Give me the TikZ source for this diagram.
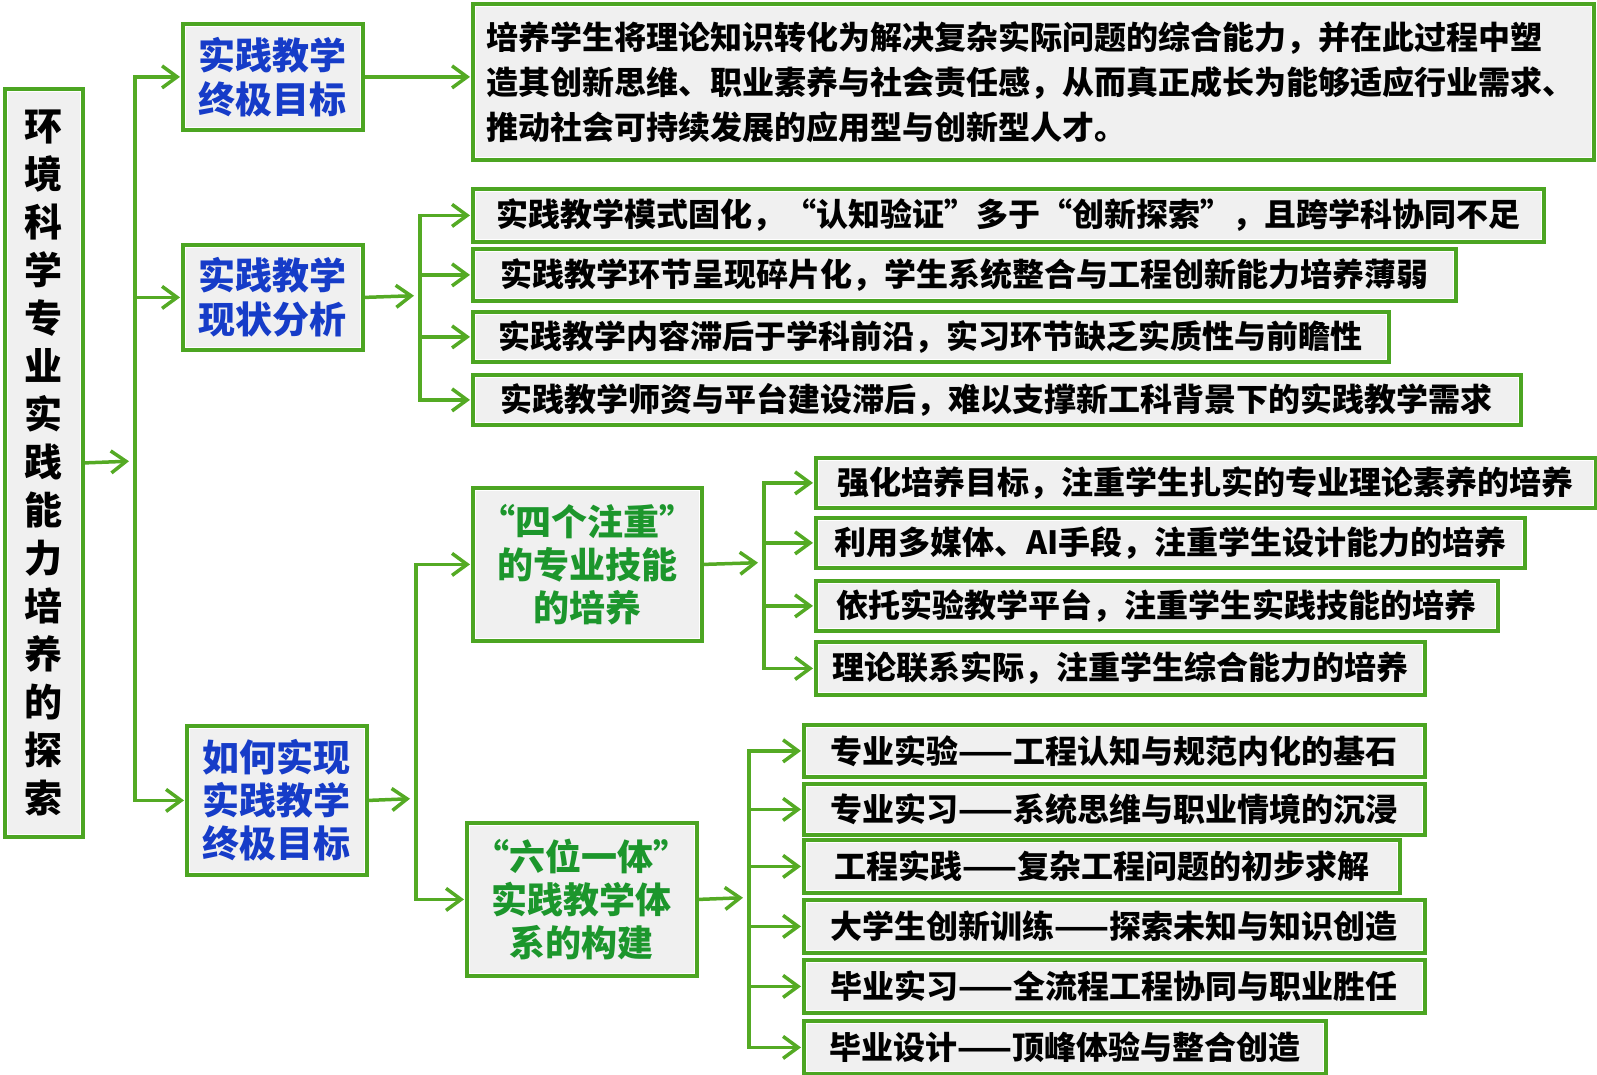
\documentclass[tikz,border=0pt]{standalone}
\usepackage{fontspec}
\setmainfont{Noto Sans CJK SC}
\usetikzlibrary{arrows.meta}
\definecolor{bgreen}{RGB}{76,165,34}
\definecolor{agreen}{RGB}{84,170,36}
\definecolor{bgray}{RGB}{240,240,240}
\definecolor{tblue}{RGB}{22,60,200}
\definecolor{tgreen}{RGB}{28,150,44}
\tikzset{
 box/.style={draw=bgreen, line width=3.8pt, fill=bgray, anchor=north west, inner sep=0pt, align=center,
   font=\bfseries\fontsize{32}{38}\selectfont,
   path picture={\draw[white,line width=6pt] (path picture bounding box.south west) rectangle (path picture bounding box.north east);}},
 itemf/.style={box, font=\bfseries\fontsize{32}{38}\selectfont},
 bluet/.style={box, text=tblue, font=\bfseries\fontsize{37}{44}\selectfont},
 greent/.style={box, text=tgreen, font=\bfseries\fontsize{36}{43}\selectfont},
 arr/.style={draw=agreen, line width=3.5pt, shorten >=1pt, -{Straight Barb[length=15pt,width=22pt,line width=3.5pt]}},
}
\begin{document}
\begin{tikzpicture}[x=1pt,y=-1pt]
\useasboundingbox (0,0) rectangle (1597,1075);
% title
\node[box, minimum width=78pt, minimum height=748pt, font=\bfseries\fontsize{38}{48}\selectfont] (T) at (3,87)
 {环\\境\\科\\学\\专\\业\\实\\践\\能\\力\\培\\养\\的\\探\\索};
% level 1
\node[bluet, minimum width=180pt, minimum height=106pt] (b1) at (181,22) {实践教学\\终极目标};
\node[bluet, minimum width=180pt, minimum height=105pt] (b2) at (181,243) {实践教学\\现状分析};
\node[bluet, minimum width=180pt, minimum height=149pt, font=\bfseries\fontsize{37}{43}\selectfont] (b3) at (185,724) {如何实现\\实践教学\\终极目标};
% goal
\node[box, minimum width=1121pt, minimum height=156pt, text width=1094pt, align=left, font=\bfseries\fontsize{32}{45}\selectfont] (top) at (471,2)
 {培养学生将理论知识转化为解决复杂实际问题的综合能力，并在此过程中塑\\造其创新思维、职业素养与社会责任感，从而真正成长为能够适应行业需求、\\推动社会可持续发展的应用型与创新型人才。};
% status
\node[box, minimum width=1071pt, minimum height=53pt] (s1) at (471,187) {实践教学模式固化，“认知验证”多于“创新探索”，且跨学科协同不足};
\node[box, minimum width=983pt, minimum height=52pt] (s2) at (471,247) {实践教学环节呈现碎片化，学生系统整合与工程创新能力培养薄弱};
\node[box, minimum width=916pt, minimum height=50pt] (s3) at (471,310) {实践教学内容滞后于学科前沿，实习环节缺乏实质性与前瞻性};
\node[box, minimum width=1048pt, minimum height=50pt] (s4) at (471,373) {实践教学师资与平台建设滞后，难以支撑新工科背景下的实践教学需求};
% level 2
\node[greent, minimum width=229pt, minimum height=153pt] (g1) at (471,486) {“四个注重”\\的专业技能\\的培养};
\node[greent, minimum width=230pt, minimum height=153pt] (g2) at (465,821) {“六位一体”\\实践教学体\\系的构建};
% four
\node[itemf, minimum width=780pt, minimum height=50pt] (f1) at (814,456) {强化培养目标，注重学生扎实的专业理论素养的培养};
\node[itemf, minimum width=709pt, minimum height=50pt] (f2) at (814,516) {利用多媒体、AI手段，注重学生设计能力的培养};
\node[itemf, minimum width=682pt, minimum height=50pt] (f3) at (814,579) {依托实验教学平台，注重学生实践技能的培养};
\node[itemf, minimum width=609pt, minimum height=53pt] (f4) at (814,640) {理论联系实际，注重学生综合能力的培养};
% six
\node[itemf, minimum width=621pt, minimum height=52pt] (x1) at (802,723) {专业实验——工程认知与规范内化的基石};
\node[itemf, minimum width=621pt, minimum height=51pt] (x2) at (802,782) {专业实习——系统思维与职业情境的沉浸};
\node[itemf, minimum width=596pt, minimum height=53pt] (x3) at (802,838) {工程实践——复杂工程问题的初步求解};
\node[itemf, minimum width=621pt, minimum height=53pt] (x4) at (802,898) {大学生创新训练——探索未知与知识创造};
\node[itemf, minimum width=621pt, minimum height=53pt] (x5) at (802,958) {毕业实习——全流程工程协同与职业胜任};
\node[itemf, minimum width=522pt, minimum height=53pt] (x6) at (802,1019) {毕业设计——顶峰体验与整合创造};
% junctions
\coordinate (j1) at (135,461);
\coordinate (j2) at (420,295.5);
\coordinate (j3) at (416,798.5);
\coordinate (j4) at (764,562.5);
\coordinate (j5) at (749,897.5);
% connectors
\draw[arr, shorten >=6pt] (T.east) -- (j1);
\foreach \t in {b1,b2,b3} \draw[arr] (j1) |- (\t.west);
\draw[arr] (b1.east) -- (b1.east -| top.west);
\draw[arr, shorten >=6pt] (b2.east) -- (j2);
\foreach \t in {s1,s2,s3,s4} \draw[arr] (j2) |- (\t.west);
\draw[arr, shorten >=6pt] (b3.east) -- (j3);
\foreach \t in {g1,g2} \draw[arr] (j3) |- (\t.west);
\draw[arr, shorten >=6pt] (g1.east) -- (j4);
\foreach \t in {f1,f2,f3,f4} \draw[arr] (j4) |- (\t.west);
\draw[arr, shorten >=6pt] (g2.east) -- (j5);
\foreach \t in {x1,x2,x3,x4,x5,x6} \draw[arr] (j5) |- (\t.west);
\end{tikzpicture}
\end{document}
